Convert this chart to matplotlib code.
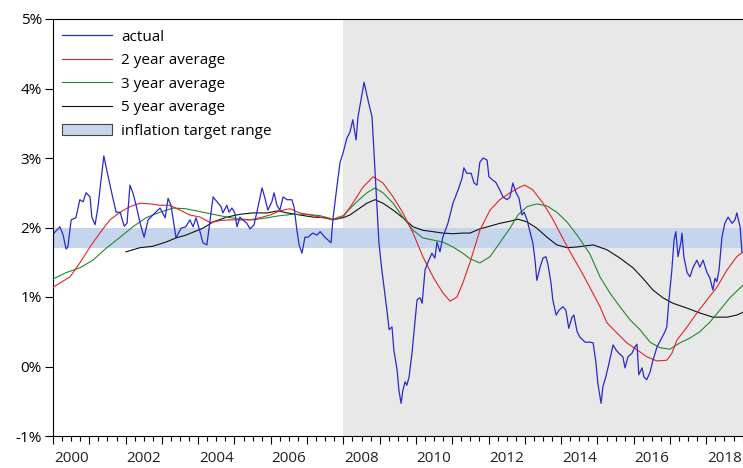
import matplotlib.pyplot as plt
import numpy as np
from matplotlib.lines import Line2D
from matplotlib.patches import Patch

# time in years since Jan 2000, values in percent
actual_t = [0.03, 0.19, 0.28, 0.36, 0.41, 0.50, 0.63, 0.74, 0.83, 0.91, 1.02, 1.07, 1.16, 1.24, 1.40,
            1.52, 1.63, 1.74, 1.85, 1.96, 2.04, 2.12, 2.20, 2.29, 2.40, 2.51, 2.62, 2.75, 2.95, 3.09,
            3.17, 3.25, 3.39, 3.53, 3.66, 3.77, 3.86, 3.94, 4.05, 4.13, 4.24, 4.33, 4.41, 4.52, 4.63,
            4.68, 4.79, 4.85, 4.93, 5.01, 5.07, 5.15, 5.23, 5.34, 5.43, 5.54, 5.65, 5.76, 5.84, 5.92,
            6.03, 6.09, 6.17, 6.25, 6.34, 6.45, 6.58, 6.64, 6.72, 6.78, 6.86, 6.94, 7.02, 7.16, 7.27,
            7.36, 7.49, 7.66, 7.71, 7.82, 7.91, 7.99, 8.10, 8.18, 8.26, 8.35, 8.40, 8.51, 8.57, 8.68,
            8.79, 8.82, 8.87, 8.93, 8.98, 9.06, 9.12, 9.20, 9.26, 9.34, 9.39, 9.48, 9.53, 9.59, 9.64,
            9.70, 9.75, 9.81, 9.89, 9.97, 10.03, 10.11, 10.17, 10.25, 10.33, 10.44, 10.52, 10.58, 10.66,
            10.74, 10.88, 11.02, 11.16, 11.27, 11.32, 11.40, 11.52, 11.60, 11.68, 11.76, 11.85, 11.96,
            12.01, 12.12, 12.20, 12.31, 12.40, 12.51, 12.59, 12.67, 12.75, 12.84, 12.92, 12.98, 13.06,
            13.14, 13.22, 13.28, 13.33, 13.42, 13.50, 13.58, 13.64, 13.72, 13.77, 13.86, 13.94, 14.05,
            14.13, 14.21, 14.30, 14.35, 14.44, 14.52, 14.66, 14.79, 14.88, 14.96, 15.01, 15.10, 15.15,
            15.23, 15.32, 15.43, 15.51, 15.59, 15.70, 15.76, 15.84, 15.95, 16.03, 16.09, 16.14, 16.23,
            16.28, 16.36, 16.45, 16.53, 16.64, 16.78, 16.86, 16.91, 16.97, 17.05, 17.11, 17.16, 17.22,
            17.30, 17.33, 17.38, 17.47, 17.55, 17.63, 17.74, 17.82, 17.91, 18.02, 18.10, 18.18, 18.24,
            18.29, 18.35, 18.43, 18.51, 18.60, 18.71, 18.79, 18.84, 18.93, 18.98]
actual = [1.92, 2.01, 1.89, 1.69, 1.72, 2.11, 2.14, 2.40, 2.37, 2.50, 2.44, 2.15, 2.04, 2.30, 3.03,
          2.73, 2.47, 2.22, 2.22, 2.02, 2.06, 2.61, 2.50, 2.32, 2.06, 1.86, 2.11, 2.18, 2.28, 2.14,
          2.42, 2.32, 1.85, 1.99, 2.01, 2.11, 2.01, 2.14, 1.94, 1.78, 1.75, 2.11, 2.44, 2.37, 2.30,
          2.21, 2.32, 2.22, 2.28, 2.21, 2.01, 2.15, 2.11, 2.06, 1.98, 2.04, 2.30, 2.57, 2.42, 2.25,
          2.37, 2.50, 2.32, 2.25, 2.44, 2.40, 2.40, 2.30, 1.96, 1.75, 1.63, 1.86, 1.86, 1.92, 1.89,
          1.94, 1.86, 1.78, 2.11, 2.58, 2.94, 3.07, 3.29, 3.37, 3.55, 3.26, 3.58, 3.91, 4.09, 3.83,
          3.59, 3.30, 2.83, 2.25, 1.78, 1.39, 1.14, 0.81, 0.53, 0.57, 0.24, -0.05, -0.34, -0.53, -0.34,
          -0.22, -0.27, -0.15, 0.19, 0.63, 0.96, 0.99, 0.91, 1.39, 1.50, 1.63, 1.56, 1.79, 1.65,
          1.86, 2.06, 2.35, 2.54, 2.71, 2.86, 2.78, 2.78, 2.64, 2.61, 2.94, 3.00, 2.97,
          2.73, 2.68, 2.65, 2.54, 2.44, 2.40, 2.44, 2.64, 2.51, 2.42, 2.18, 2.22, 2.11,
          1.94, 1.78, 1.53, 1.24, 1.43, 1.56, 1.58, 1.46, 1.20, 0.96, 0.74, 0.81, 0.86,
          0.81, 0.55, 0.71, 0.74, 0.50, 0.42, 0.35, 0.35, 0.34, 0.05, -0.24, -0.53, -0.29,
          -0.15, 0.05, 0.31, 0.24, 0.19, 0.14, -0.02, 0.14, 0.19, 0.28, 0.32, -0.12, -0.02,
          -0.15, -0.19, -0.08, 0.09, 0.28, 0.42, 0.50, 0.57, 0.96, 1.39, 1.82, 1.94, 1.58,
          1.79, 1.92, 1.58, 1.35, 1.29, 1.42, 1.53, 1.43, 1.53, 1.35, 1.27, 1.10, 1.27,
          1.22, 1.39, 1.86, 2.06, 2.15, 2.06, 2.11, 2.21, 2.01, 1.65]

avg2_t = [0.00, 0.47, 0.74, 1.02, 1.29, 1.57, 1.85, 2.12, 2.40, 2.67, 2.95, 3.22, 3.50, 3.77, 4.05,
          4.33, 4.60, 4.88, 5.15, 5.43, 5.70, 5.98, 6.25, 6.53, 6.80, 7.08, 7.36, 7.71, 7.99, 8.26,
          8.54, 8.82, 9.09, 9.37, 9.64, 9.92, 10.19, 10.47, 10.74, 10.94, 11.13, 11.29, 11.49, 11.76,
          12.04, 12.31, 12.59, 12.86, 13.00, 13.22, 13.50, 13.77, 14.05, 14.33, 14.52, 14.79, 15.07,
          15.26, 15.54, 15.81, 16.09, 16.36, 16.64, 16.91, 17.05, 17.19, 17.47, 17.74, 18.02, 18.29,
          18.57, 18.84, 19.01]
avg2 = [1.14, 1.29, 1.49, 1.72, 1.92, 2.11, 2.22, 2.30, 2.35, 2.34, 2.32, 2.32, 2.25, 2.18, 2.15,
        2.07, 2.10, 2.11, 2.11, 2.11, 2.14, 2.18, 2.24, 2.27, 2.21, 2.18, 2.15, 2.11, 2.15, 2.35,
        2.58, 2.73, 2.64, 2.44, 2.21, 1.92, 1.58, 1.29, 1.06, 0.94, 1.00, 1.20, 1.50, 1.96,
        2.25, 2.40, 2.50, 2.58, 2.61, 2.54, 2.35, 2.12, 1.84, 1.57, 1.40, 1.14, 0.86,
        0.63, 0.48, 0.34, 0.24, 0.14, 0.08, 0.09, 0.19, 0.38, 0.57, 0.77, 0.96, 1.14,
        1.39, 1.58, 1.65]

avg3_t = [0.00, 0.36, 0.74, 1.10, 1.46, 1.85, 2.20, 2.56, 2.95, 3.31, 3.66, 4.13, 4.41, 4.79, 5.15,
          5.51, 5.90, 6.25, 6.61, 7.00, 7.36, 7.71, 7.99, 8.37, 8.65, 8.87, 9.09, 9.37, 9.64, 9.92,
          10.19, 10.47, 10.74, 11.02, 11.29, 11.49, 11.76, 12.04, 12.31, 12.59, 12.81, 13.06, 13.33,
          13.61, 13.88, 14.16, 14.44, 14.79, 15.07, 15.34, 15.62, 15.90, 16.17, 16.45, 16.72, 17.00,
          17.27, 17.55, 17.82, 18.10, 18.37, 18.65, 19.01]
avg3 = [1.26, 1.35, 1.42, 1.53, 1.70, 1.86, 2.01, 2.14, 2.22, 2.28, 2.27, 2.22, 2.19, 2.15, 2.12,
        2.11, 2.14, 2.17, 2.19, 2.19, 2.17, 2.12, 2.17, 2.37, 2.50, 2.57, 2.50, 2.35, 2.15, 1.96,
        1.85, 1.82, 1.79, 1.72, 1.63, 1.55, 1.49, 1.58, 1.78, 1.99, 2.18, 2.30, 2.34,
        2.31, 2.22, 2.08, 1.89, 1.62, 1.29, 1.06, 0.86, 0.67, 0.53, 0.35, 0.27, 0.25,
        0.34, 0.41, 0.50, 0.64, 0.81, 0.99, 1.17]

avg5_t = [2.01, 2.40, 2.75, 3.11, 3.39, 3.66, 4.13, 4.41, 4.79, 5.15, 5.51, 5.90, 6.20, 6.45, 6.80,
          7.16, 7.55, 7.71, 7.99, 8.18, 8.37, 8.65, 8.87, 9.09, 9.37, 9.64, 9.92, 10.19, 10.47, 10.74,
          11.02, 11.29, 11.49, 11.76, 12.04, 12.31, 12.59, 12.81, 13.06, 13.33, 13.61, 13.88, 14.16,
          14.44, 14.88, 15.26, 15.62, 15.98, 16.25, 16.53, 16.80, 17.08, 17.47, 17.82, 18.18, 18.57,
          18.84, 19.01]
avg5 = [1.65, 1.71, 1.73, 1.79, 1.85, 1.89, 1.99, 2.08, 2.15, 2.19, 2.21, 2.21, 2.24, 2.21, 2.18,
        2.15, 2.14, 2.11, 2.14, 2.18, 2.25, 2.35, 2.40, 2.35, 2.25, 2.14, 2.01, 1.96, 1.94, 1.92,
        1.91, 1.92, 1.92, 1.98, 2.02, 2.06, 2.09, 2.12, 2.08, 1.99, 1.86, 1.75, 1.71,
        1.72, 1.75, 1.68, 1.56, 1.42, 1.27, 1.10, 0.99, 0.91, 0.84, 0.77, 0.71, 0.71,
        0.74, 0.78]

target_low, target_high = 1.7, 2.0
shade_start = 2008
x_start, x_end = 2000, 2019.01
label_years = list(range(2000, 2019, 2))

plt.rcParams['font.family'] = ['Open Sans', 'DejaVu Sans']

fig = plt.figure(figsize=(7.43, 4.68), dpi=100)
ax = fig.add_axes([53 / 743, 1 - 436 / 468, 1 - 53 / 743, (436 - 19) / 468])

band_color = '#c6d5ee'
ax.axvspan(shade_start, x_end, color='#e8e8e8', lw=0, zorder=0)
ax.axhspan(target_low, target_high, color=band_color, lw=0, zorder=1)

c_actual, c_2, c_3, c_5 = '#2a2acb', '#e0262a', '#1f8a2a', '#111111'
ax.plot(np.array(avg5_t) + 2000, avg5, color=c_5, lw=0.8, zorder=3)
ax.plot(np.array(avg3_t) + 2000, avg3, color=c_3, lw=0.8, zorder=3)
ax.plot(np.array(avg2_t) + 2000, avg2, color=c_2, lw=0.8, zorder=3)
ax.plot(np.array(actual_t) + 2000, actual, color=c_actual, lw=0.9, zorder=4)

ax.set_xlim(x_start, x_end)
ax.set_ylim(-1, 5)
ax.set_yticks(range(-1, 6))
ax.set_yticklabels([f'{v}%' for v in range(-1, 6)])

ax.set_xticks(range(2000, 2020))
ax.set_xticks(np.arange(2000, 2019.01, 0.25), minor=True)
ax.set_xticklabels([])
ax.tick_params(axis='x', which='major', length=6, width=0.8, direction='out')
ax.tick_params(axis='x', which='minor', length=3.5, width=0.8, direction='out')
ax.tick_params(axis='y', length=6, width=0.8, direction='out', labelsize=11, pad=2)
for yr in label_years:
    ax.text(yr + 0.5, -0.037, str(yr), transform=ax.get_xaxis_transform(),
            ha='center', va='top', fontsize=11, color='#222222')

for side in ['left', 'top', 'bottom']:
    ax.spines[side].set_linewidth(0.8)
ax.spines['right'].set_visible(False)

handles = [Line2D([], [], color=c_actual, lw=0.9),
           Line2D([], [], color=c_2, lw=0.8),
           Line2D([], [], color=c_3, lw=0.8),
           Line2D([], [], color=c_5, lw=0.8),
           Patch(facecolor=band_color, edgecolor='#444444', lw=0.8)]
labels = ['actual', '2 year average', '3 year average', '5 year average', 'inflation target range']
ax.legend(handles, labels, loc='upper left', bbox_to_anchor=(-0.003, 1.0), frameon=False,
          fontsize=11, handlelength=3.3, handletextpad=0.6, labelspacing=0.56,
          borderaxespad=0.3)

fig.savefig('out.png', dpi=100)
